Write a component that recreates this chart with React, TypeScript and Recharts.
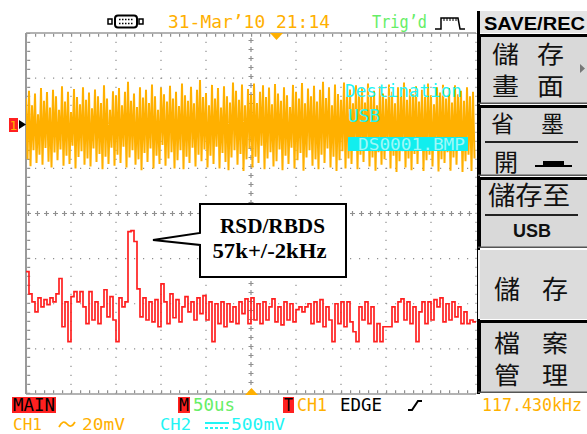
import React from 'react';
import { ComposedChart, Line, XAxis, YAxis, ReferenceLine } from 'recharts';

// CH1 (yellow) envelope per screen column, in divisions (0 = bottom, 8 = top)
const ch1High = [
  6.55, 6.72, 6.40, 6.66, 6.20, 6.78, 6.50, 6.69, 6.35, 6.74,
  6.60, 6.30, 6.82, 6.48, 6.70, 6.25, 6.76, 6.58, 6.42, 6.80,
  6.52, 6.68, 6.33, 6.75, 6.60, 6.45, 6.84, 6.55, 6.30, 6.71,
  6.62, 6.78, 6.40, 6.70, 6.92, 6.50, 6.66, 6.36, 6.80, 6.57,
  6.74, 6.45, 6.86, 6.60, 6.30, 6.79, 6.64, 6.48, 6.83, 6.55,
  6.70, 6.38, 6.88, 6.62, 6.50, 6.81, 6.44, 6.74, 6.96, 6.58,
  6.67, 6.40, 6.85, 6.55, 6.78, 6.35, 6.82, 6.60, 6.46, 6.90,
  6.72, 6.52, 6.86, 6.40, 6.76, 6.63, 6.88, 6.45, 6.70, 6.84,
  6.58, 6.79, 6.42, 6.87, 6.66, 6.50, 6.80, 6.62, 6.36, 6.85,
  6.70, 6.55, 6.89, 6.44, 6.77, 6.60, 6.83, 6.48, 6.74, 6.92,
  6.56, 6.80, 6.40, 6.86, 6.65, 6.52, 6.90, 6.60, 6.75, 6.44,
  6.84, 6.62, 6.78, 6.46, 6.88, 6.58, 6.72, 6.40, 6.82, 6.66,
  6.54, 6.86, 6.70, 6.44, 6.80, 6.60, 6.90, 6.52, 6.76, 6.64,
  6.82, 6.48, 6.74, 6.58, 6.88, 6.62, 6.42, 6.80, 6.68, 6.85,
  6.55, 6.78, 6.46, 6.84, 6.64, 6.72, 6.50, 6.80, 6.60, 6.70,
];
const ch1Low = [
  5.20, 5.05, 5.40, 5.12, 5.30, 5.08, 5.45, 5.15, 5.02, 5.35,
  5.18, 5.42, 5.06, 5.28, 5.10, 5.50, 5.00, 5.25, 5.38, 5.08,
  5.22, 5.04, 5.44, 5.14, 5.32, 4.98, 5.26, 5.10, 5.46, 5.06,
  5.30, 5.12, 5.48, 5.02, 5.24, 5.40, 5.08, 5.20, 4.96, 5.34,
  5.14, 5.44, 5.00, 5.28, 5.10, 5.52, 5.06, 5.22, 5.36, 5.00,
  5.18, 5.40, 4.98, 5.26, 5.12, 5.46, 5.04, 5.30, 5.16, 5.42,
  5.02, 5.28, 5.10, 5.48, 5.00, 5.34, 5.14, 4.96, 5.24, 5.40,
  5.08, 5.32, 4.94, 5.20, 5.44, 5.02, 5.26, 5.12, 5.50, 4.98,
  5.22, 5.36, 5.04, 5.16, 5.42, 4.96, 5.28, 5.10, 5.46, 5.00,
  5.18, 5.34, 4.95, 5.24, 5.40, 5.06, 5.20, 4.98, 5.30, 5.12,
  5.44, 5.02, 5.26, 4.94, 5.18, 5.38, 5.00, 5.22, 5.10, 5.46,
  4.98, 5.30, 5.14, 5.42, 5.04, 5.24, 4.95, 5.36, 5.08, 5.20,
  5.44, 5.00, 5.28, 4.92, 5.16, 5.38, 5.02, 5.22, 4.96, 5.32,
  5.10, 5.40, 4.94, 5.18, 5.30, 5.04, 5.46, 4.93, 5.20, 5.12,
  5.36, 4.95, 5.24, 5.08, 5.42, 4.92, 5.16, 5.30, 4.94, 5.22,
];
// CH2 (red) level per screen column, in divisions
const ch2Level = [
  2.71, 2.22, 2.04, 1.82, 2.13, 1.93, 2.09, 1.98, 2.13, 2.04,
  2.22, 2.56, 1.49, 2.04, 1.16, 2.16, 2.27, 2.04, 2.27, 1.93,
  1.56, 2.27, 1.64, 2.04, 1.56, 1.93, 2.31, 1.71, 2.16, 1.64,
  1.16, 2.13, 1.93, 2.04, 3.60, 3.62, 3.38, 2.33, 1.71, 2.13,
  1.64, 2.04, 1.60, 2.09, 1.49, 2.44, 2.04, 1.56, 2.22, 1.69,
  2.09, 1.60, 1.93, 2.16, 1.82, 2.04, 1.64, 2.13, 1.78, 2.18,
  1.64, 2.04, 1.16, 2.00, 1.56, 2.04, 1.49, 2.00, 1.60, 1.93,
  1.56, 2.04, 1.78, 2.11, 1.56, 2.13, 1.64, 2.00, 1.56, 2.04,
  1.64, 1.93, 2.11, 1.60, 1.93, 1.53, 2.04, 1.64, 2.00, 1.60,
  1.87, 1.93, 1.82, 1.93, 2.00, 1.56, 2.04, 1.60, 2.09, 1.49,
  1.93, 1.64, 1.16, 2.00, 1.56, 2.04, 1.49, 2.04, 1.60, 1.38,
  1.16, 1.93, 1.64, 2.04, 1.56, 1.93, 1.16, 1.56, 1.16, 1.49,
  1.49, 1.49, 1.93, 1.60, 2.04, 2.11, 1.64, 2.04, 1.56, 1.93,
  1.16, 1.82, 2.04, 1.56, 2.04, 1.64, 2.09, 1.93, 2.13, 1.60,
  2.00, 1.64, 2.04, 1.71, 1.93, 1.56, 1.82, 1.56, 1.64, 1.60,
  1.60,
];
const gridX = [1, 2, 3, 4, 6, 7, 8, 9];
const gridY = [1, 2, 3, 5, 6, 7];
const centerX = 5;
const centerY = 4;
const columns = 150;
const xDivs = 10;
const yDivs = 8;

const ch1Data = ch1High.flatMap((h, i) => [
  { x: (i * xDivs) / columns, y: h },
  { x: ((i + 0.5) * xDivs) / columns, y: ch1Low[i] },
]);
const ch2Data = ch2Level.map((v, i) => ({ x: (i * xDivs) / columns, y: v }));

const ORANGE = '#FFB000';
const RED = '#FF2020';
const CYAN = '#22F4F4';
const GREEN = '#66EE66';
const GRID = '#8f8f8f';
const MONO = '"DejaVu Sans Mono", monospace';
const CJK = '"Noto Sans CJK TC", sans-serif';
const PANEL = '#d9d9d9';

const Chrome = () => (
  <svg width={587} height={434} style={{ position: 'absolute', left: 0, top: 0, pointerEvents: 'none' }}>
    {/* connector icon */}
    <rect x={108} y={19} width={4} height={5} fill="none" stroke="#000" strokeWidth={1.5} />
    <rect x={115} y={15.5} width={22} height={12} rx={3} fill="none" stroke="#000" strokeWidth={2} />
    <path d="M119 19.5 h14 M119 23.5 h14" stroke="#000" strokeWidth={1.5} strokeDasharray="1.5 1.5" />
    <rect x={139} y={19} width={4} height={5} fill="none" stroke="#000" strokeWidth={1.5} />
    <text x={168} y={28} fontFamily={MONO} fontSize={18} fill={ORANGE} textLength={162} lengthAdjust="spacingAndGlyphs">31-Mar’10 21:14</text>
    <text x={372} y={28} fontFamily={MONO} fontSize={17} fill={GREEN} textLength={55} lengthAdjust="spacingAndGlyphs">Trig’d</text>
    <path d="M435 29 H441 V18 H458 L460 29 H465" fill="none" stroke="#000" strokeWidth={1.5} />
    <path d="M444 18 v3 M447 18 v3 M450 18 v3 M453 18 v3 M456 18 v3" stroke="#000" strokeWidth={1} />

    {/* right menu */}
    <rect x={480} y={11} width={107} height={22} fill="#e4e4e4" />
    <rect x={477} y={11} width={3} height={383} fill="#000" />
    <text x={484} y={30} fontFamily='"Liberation Sans", Arial, sans-serif' fontWeight="bold" fontSize={19} fill="#000" textLength={101} lengthAdjust="spacingAndGlyphs">SAVE/REC</text>
    {[
      [34, 104],
      [105, 176],
      [177, 248],
      [320, 393],
    ].map(([a, b]) => (
      <g key={a}>
        <rect x={478} y={a} width={109} height={b - a} fill={PANEL} />
        <rect x={478} y={a} width={109} height={3} fill="#000" />
        <rect x={478} y={a} width={3} height={b - a} fill="#000" />
        <rect x={478} y={b - 1.5} width={109} height={1.5} fill="#555" />
      </g>
    ))}
    <rect x={478} y={250} width={109} height={69} fill="#dcdcdc" />
    <rect x={478} y={250} width={2} height={69} fill="#f4f4f4" />

    <g fontFamily={CJK} fill="#111">
      <text x={492} y={63} fontSize={24} textLength={27} lengthAdjust="spacingAndGlyphs">儲</text>
      <text x={537} y={63} fontSize={24} textLength={27} lengthAdjust="spacingAndGlyphs">存</text>
      <text x={492} y={95} fontSize={24} textLength={27} lengthAdjust="spacingAndGlyphs">畫</text>
      <text x={537} y={95} fontSize={24} textLength={27} lengthAdjust="spacingAndGlyphs">面</text>
      <text x={491} y={132} fontSize={23}>省</text>
      <text x={541} y={132} fontSize={23}>墨</text>
      <text x={494} y={171} fontSize={24}>開</text>
      <text x={488} y={205} fontSize={26} textLength={82} lengthAdjust="spacingAndGlyphs">儲存至</text>
      <text x={494} y={299} fontSize={26}>儲</text>
      <text x={542} y={299} fontSize={26}>存</text>
      <text x={494} y={352} fontSize={24} textLength={26} lengthAdjust="spacingAndGlyphs">檔</text>
      <text x={542} y={352} fontSize={24} textLength={26} lengthAdjust="spacingAndGlyphs">案</text>
      <text x={494} y={384} fontSize={24} textLength={26} lengthAdjust="spacingAndGlyphs">管</text>
      <text x={542} y={384} fontSize={24} textLength={26} lengthAdjust="spacingAndGlyphs">理</text>
    </g>
    <path d="M580 64 L585 68.5 L580 73 Z" fill="#777" />
    <rect x={485} y={141} width={93} height={2} fill="#222" />
    <rect x={535} y={165} width={37} height={2} fill="#000" />
    <rect x={543} y={161} width={21} height={5} fill="#000" />
    <rect x={485} y={214} width={93} height={2} fill="#222" />
    <text x={532} y={237} textAnchor="middle" fontFamily='"Liberation Sans", Arial, sans-serif' fontWeight="bold" fontSize={18} fill="#111">USB</text>

    {/* channel marker and trigger markers */}
    <rect x={9} y={118} width={9} height={14} fill={RED} />
    <text x={13.5} y={130} textAnchor="middle" fontFamily={MONO} fontSize={13} fill={ORANGE}>1</text>
    <path d="M19 120 L26 124.5 L19 129 Z" fill="#000" />
    <path d="M270 33 H283 L276.5 40 Z" fill={ORANGE} />
    <path d="M245 395 H258 L251.5 388 Z" fill={ORANGE} />

    {/* save destination texts */}
    <text x={345} y={97} fontFamily={MONO} fontSize={18} fill={CYAN} textLength={117} lengthAdjust="spacingAndGlyphs">Destination</text>
    <text x={348} y={122} fontFamily={MONO} fontSize={18} fill={CYAN} textLength={32} lengthAdjust="spacingAndGlyphs">USB</text>
    <rect x={348} y={137} width={120} height={14} fill="#12EEEE" />
    <text x={358} y={150} fontFamily={MONO} fontSize={16} fill="#9ff8f8" textLength={107} lengthAdjust="spacingAndGlyphs">DS0001.BMP</text>

    {/* callout */}
    <path d="M200 204 H346 V277 H200 V245 L153 240 L200 233 Z" fill="#fff" stroke="#000" strokeWidth={2} />
    <text x={272.5} y={233} textAnchor="middle" fontFamily='"Liberation Serif", "Times New Roman", serif' fontWeight="bold" fontSize={21} fill="#000" textLength={105} lengthAdjust="spacingAndGlyphs">RSD/RBDS</text>
    <text x={269.5} y={258} textAnchor="middle" fontFamily='"Liberation Serif", "Times New Roman", serif' fontWeight="bold" fontSize={21} fill="#000" textLength={114} lengthAdjust="spacingAndGlyphs">57k+/-2kHz</text>

    {/* status line 1 */}
    <rect x={12} y={397} width={44} height={16} fill={RED} />
    <text x={13} y={411} fontFamily={MONO} fontSize={18} fill="#000" textLength={42} lengthAdjust="spacingAndGlyphs">MAIN</text>
    <rect x={178} y={397} width={12} height={16} fill={RED} />
    <text x={179} y={411} fontFamily={MONO} fontSize={18} fill="#000" textLength={10} lengthAdjust="spacingAndGlyphs">M</text>
    <text x={193} y={411} fontFamily={MONO} fontSize={18} fill={GREEN} textLength={42} lengthAdjust="spacingAndGlyphs">50us</text>
    <rect x={283} y={397} width={11} height={16} fill={RED} />
    <text x={284} y={411} fontFamily={MONO} fontSize={18} fill="#000" textLength={9} lengthAdjust="spacingAndGlyphs">T</text>
    <text x={297} y={411} fontFamily={MONO} fontSize={18} fill={ORANGE} textLength={30} lengthAdjust="spacingAndGlyphs">CH1</text>
    <text x={340} y={411} fontFamily={MONO} fontSize={18} fill="#000" textLength={42} lengthAdjust="spacingAndGlyphs">EDGE</text>
    <path d="M408 410 H412 L418 401 H422" fill="none" stroke="#000" strokeWidth={2} />
    <text x={482} y={411} fontFamily={MONO} fontSize={17} fill={ORANGE} textLength={100} lengthAdjust="spacingAndGlyphs">117.430kHz</text>

    {/* status line 2 */}
    <text x={13} y={430} fontFamily={MONO} fontSize={16} fill={ORANGE} textLength={29} lengthAdjust="spacingAndGlyphs">CH1</text>
    <path d="M59 427 Q63 419 67 424 T75 422" fill="none" stroke={ORANGE} strokeWidth={1.8} />
    <text x={82} y={430} fontFamily={MONO} fontSize={16} fill={ORANGE} textLength={43} lengthAdjust="spacingAndGlyphs">20mV</text>
    <text x={160} y={430} fontFamily={MONO} fontSize={16} fill={CYAN} textLength={31} lengthAdjust="spacingAndGlyphs">CH2</text>
    <path d="M205 423 H229" stroke={CYAN} strokeWidth={2} />
    <path d="M205 428 H229" stroke={CYAN} strokeWidth={2} strokeDasharray="3 2" />
    <text x={231} y={430} fontFamily={MONO} fontSize={16} fill={CYAN} textLength={54} lengthAdjust="spacingAndGlyphs">500mV</text>
  </svg>
);

export default function App() {
  return (
    <div style={{ position: 'absolute', left: 0, top: 0, width: 587, height: 434, background: '#fff', overflow: 'hidden' }}>
      <ComposedChart width={587} height={434} margin={{ top: 33, right: 111, bottom: 40, left: 26 }}>
        <XAxis dataKey="x" type="number" domain={[0, xDivs]} hide allowDataOverflow />
        <YAxis type="number" domain={[0, yDivs]} hide allowDataOverflow />
        {gridX.map((v) => (
          <ReferenceLine key={'gx' + v} x={v} stroke={GRID} strokeWidth={1.2} strokeDasharray="1.2 7.8" />
        ))}
        {gridY.map((v) => (
          <ReferenceLine key={'gy' + v} y={v} stroke={GRID} strokeWidth={1.2} strokeDasharray="1.2 7.8" />
        ))}
        <ReferenceLine x={centerX} stroke={GRID} strokeWidth={1.2} strokeDasharray="5 4" />
        <ReferenceLine x={centerX} stroke={GRID} strokeWidth={5} strokeDasharray="1.2 7.8" strokeDashoffset={-1.9} />
        <ReferenceLine y={centerY} stroke={GRID} strokeWidth={1.2} strokeDasharray="5 4" />
        <ReferenceLine y={centerY} stroke={GRID} strokeWidth={5} strokeDasharray="1.2 7.8" strokeDashoffset={-1.9} />
        <ReferenceLine x={0.06} stroke={GRID} strokeWidth={3} strokeDasharray="1.2 7.8" />
        <ReferenceLine x={xDivs} stroke={GRID} strokeWidth={1.2} strokeDasharray="1.2 7.8" />
        <ReferenceLine y={yDivs - 0.05} stroke={GRID} strokeWidth={3} strokeDasharray="1.2 7.8" />
        <ReferenceLine y={0.05} stroke={GRID} strokeWidth={3} strokeDasharray="1.2 7.8" />
        <ReferenceLine x={0} stroke="#9a9a9a" strokeWidth={2} />
        <ReferenceLine y={yDivs} stroke="#9a9a9a" strokeWidth={1.5} />
        <ReferenceLine y={0} stroke="#9a9a9a" strokeWidth={1.5} />
        <Line data={ch1Data} dataKey="y" type="linear" stroke={ORANGE} strokeWidth={2} dot={false} isAnimationActive={false} />
        <Line data={ch2Data} dataKey="y" type="stepAfter" stroke={RED} strokeWidth={1.7} dot={false} isAnimationActive={false} />
      </ComposedChart>
      <Chrome />
    </div>
  );
}
